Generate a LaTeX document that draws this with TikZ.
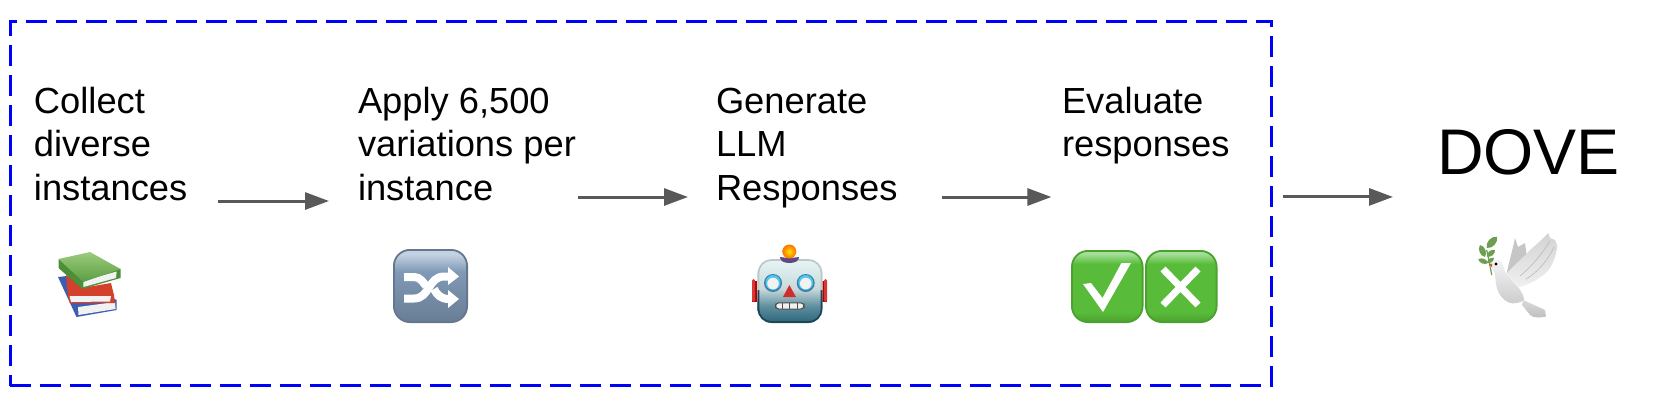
\documentclass[tikz,border=0pt]{standalone}
\usepackage{fontspec}
\setmainfont{Liberation Sans}
\usetikzlibrary{arrows.meta}
\definecolor{btnB}{HTML}{4BA12E}\definecolor{btnM}{HTML}{58BC3A}\definecolor{btnT}{HTML}{A4DF97}
\definecolor{shB}{HTML}{697D95}\definecolor{shM}{HTML}{8099B6}\definecolor{shT}{HTML}{C3D2E2}
\definecolor{rbB}{HTML}{2B6478}\definecolor{rbM}{HTML}{5D8E9F}\definecolor{rbL}{HTML}{C9DADB}\definecolor{rbT}{HTML}{E8F5F6}
\definecolor{arrowgrey}{HTML}{595959}
\definecolor{bookblue}{HTML}{3D5DB0}\definecolor{bookred}{HTML}{D4412B}\definecolor{bookgreen}{HTML}{4C8F38}
\definecolor{bookgreenT}{HTML}{9CCB7C}\definecolor{bookgreenB}{HTML}{5A9F42}
\definecolor{leafgreen}{HTML}{6E9E52}
\pgfdeclareverticalshading{greenbtn}{100bp}{color(0bp)=(btnB);color(25bp)=(btnB);color(32bp)=(btnM);color(66bp)=(btnM);color(73bp)=(btnT);color(75bp)=(btnT);color(100bp)=(btnT)}
\pgfdeclareverticalshading{bluebtn}{100bp}{color(0bp)=(shB);color(25bp)=(shB);color(60bp)=(shM);color(72bp)=(shT);color(75bp)=(shT);color(100bp)=(shT)}
\pgfdeclareverticalshading{robothead}{100bp}{color(0bp)=(rbB);color(25bp)=(rbB);color(38bp)=(rbM);color(52bp)=(rbL);color(75bp)=(rbT);color(100bp)=(rbT)}
\tikzset{
  label text/.style={inner sep=0pt,outer sep=0pt,anchor=north west,align=left,font=\fontsize{36.3}{43.5}\selectfont},
  flow/.style={draw=arrowgrey,line width=3pt,-{Triangle[length=24pt,width=17pt,fill=arrowgrey]}},
  frame box/.style={draw=blue,line width=3pt,dash pattern=on 21pt off 9pt,inner sep=0pt,outer sep=0pt,minimum width=1261pt,minimum height=364.5pt},
  page/.style={fill=white!90!gray},
}
\newcommand{\firstln}{\rule{0pt}{30pt}}
\newcommand{\lastln}{\rule[-10pt]{0pt}{10pt}}
\newcommand{\leafshape}[3]{\fill[#1] (#2) to[bend left=55] (#3) to[bend left=55] (#2) -- cycle;}
\begin{document}
\begin{tikzpicture}[x=1pt,y=-1pt]
\useasboundingbox (0,0) rectangle (1660,405);
\node[frame box] (frame) at (640.5,203.7) {};
\node[label text] (collect) at (34,83) {\firstln Collect\\diverse\\instances\lastln};
\node[label text] (apply) at (358,83) {\firstln Apply 6,500\\variations per\\instance\lastln};
\node[label text] (generate) at (716,83) {\firstln Generate\\LLM\\Responses\lastln};
\node[label text] (evaluate) at (1062,83) {\firstln Evaluate\\responses\lastln};
\node[inner sep=0pt,outer sep=0pt,anchor=base west,font=\fontsize{64.5}{70}\selectfont] (dove) at (1437,174) {DOVE};
\draw[flow] ([shift={(184,-9)}]collect.south west) -- ([shift={(-29,-9)}]apply.south west);
\draw[flow] ([shift={(220,-13)}]apply.south west) -- ([shift={(-28,-13)}]generate.south west);
\draw[flow] ([shift={(225.6,-13)}]generate.south west) -- ([shift={(-10.6,30.5)}]evaluate.south west);
\path (dove.south west) ++(-44,22.3) coordinate (doveIn);
\draw[flow] ([xshift=12pt]frame.east |- doveIn) -- (doveIn);
% books
\begin{scope}
\fill[bookblue] (58,277) -- (67,276) -- (116.7,300) -- (116.7,310) -- (76.5,317) -- cycle;
\fill[page] (78,307) -- (115,302) -- (115.6,309) -- (78.5,315) -- cycle;
\fill[bookred] (66,275) -- (82,288) -- (111,283) -- (114,295) -- (115,303) -- (70,303.5) -- (68,296) -- cycle;
\fill[page] (69.6,296) -- (111,296) -- (110,301.5) -- (71,302) -- cycle;
\fill[bookgreen] (58.5,259) -- (58.5,268) -- (82.3,289) -- (120.5,278) -- (120.5,269) -- cycle;
\fill[page] (83.4,281) -- (116.7,271.5) -- (116,278) -- (83.4,287) -- cycle;
\shade[top color=bookgreenT,bottom color=bookgreenB] (58.5,259) -- (90,252) -- (120.5,269) -- (83.4,282) -- cycle;
\end{scope}
% shuffle
\shade[shading=bluebtn,draw=shB!95!black,line width=1.8pt,rounded corners=16pt] (393.9,249.9) rectangle (467.1,322.1);
\begin{scope}[draw=white,line width=8pt]
\draw (404,277) -- (414,277) .. controls (420,277) and (423,282) .. (426,286);
\draw (404,298.5) -- (414,298.5) .. controls (430,298.5) and (428,276.5) .. (444,276.5) -- (449,276.5);
\draw (434,289) .. controls (437,295) and (441,299) .. (449,299);
\fill[white,draw=none] (448,267) -- (459,276.5) -- (448,285) -- cycle;
\fill[white,draw=none] (448,290) -- (459,299) -- (448,308) -- cycle;
\end{scope}
% robot
\fill[red!70!black] (752,281) rectangle (758,302);
\fill[red!70!black] (821,281) rectangle (827,302);
\fill[red!75!white!85!black,rounded corners=1.5pt] (752,279) rectangle (755,302);
\fill[red!75!white!85!black,rounded corners=1.5pt] (824,279) rectangle (827,302);
\shade[shading=robothead,rounded corners=14pt] (757.5,259) rectangle (822.5,323);
\draw[color=rbB!70!black,line width=1.6pt,rounded corners=13pt] (758.5,290) -- (758.5,322) -- (821.5,322) -- (821.5,290);
\draw[color=rbL!80!gray,line width=1.6pt,rounded corners=13pt] (758.5,290) -- (758.5,260) -- (821.5,260) -- (821.5,290);
\fill[color={rgb,255:red,94;green,74;blue,126}] (780,257) .. controls (785,258) and (794,258) .. (799,257) .. controls (799,261) and (795,263) .. (789.5,263) .. controls (784,263) and (780,261) .. (780,257) -- cycle;
\shade[inner color=yellow!75!orange,outer color=orange!90!red] (789.3,251.5) circle (7);
\foreach \ex in {773,805.7}{
  \fill[color={rgb,255:red,62;green,128;blue,165}] (\ex,283) circle (9);
  \fill[cyan!70!white] (\ex,282.5) circle (7.5);
  \fill[white!90!gray] (\ex,283.5) circle (5.8);
}
\fill[red!65!gray] (789.3,285) -- (796,297) -- (783,297) -- cycle;
\draw[fill=white!88!gray,draw=black!70,line width=1pt,rounded corners=3.4pt] (775.5,302.8) rectangle (804,309);
\foreach \mx in {782.5,789.7,797}{\draw[black!70,line width=.9pt] (\mx,303) -- (\mx,309);}
% check and cross
\shade[shading=greenbtn,draw=btnB,line width=1.8pt,rounded corners=16pt] (1071.9,250.9) rectangle (1142.6,322.1);
\shade[shading=greenbtn,draw=btnB,line width=1.8pt,rounded corners=16pt] (1145.9,250.9) rectangle (1216.6,322.1);
\fill[white] (1083,284) -- (1091,283) -- (1102.5,298) -- (1121.4,263) -- (1131,263) -- (1103,312) -- cycle;
\draw[white,line width=7pt] (1163,269) -- (1198,305);
\draw[white,line width=7pt] (1198,269) -- (1163,305);
% dove
\draw[leafgreen,line width=1.2pt] (1491.7,275) -- (1489.5,263) -- (1486.7,250);
\leafshape{leafgreen}{1497,236.7}{1486.7,248}
\leafshape{leafgreen}{1480,245}{1485,257}
\leafshape{leafgreen}{1495,250}{1486.7,256.7}
\leafshape{leafgreen}{1478.3,259.3}{1488,263}
\leafshape{leafgreen}{1494,258}{1487,263}
\fill[gray!45] (1506.7,273) .. controls (1510,258) and (1513,248) .. (1515,238) -- (1518,247) -- (1525,243) -- (1527,257) -- (1510,276) -- cycle;
\shade[top color=gray!30,bottom color=gray!50,draw=none] (1523,300) -- (1545,310) -- (1546,316.5) .. controls (1540,318) and (1533,318) .. (1530,315) -- (1522,305) -- cycle;
\shade[top color=white!92!gray,bottom color=gray!40] (1490,265.7) .. controls (1492,261) and (1496,259) .. (1499,260) .. controls (1503,262) and (1504,268) .. (1505,272) -- (1518,287) .. controls (1522,292) and (1524,297) .. (1524,300) .. controls (1520,303) and (1514,304) .. (1510,303) .. controls (1502,300) and (1497,292) .. (1496,284) -- (1495,275) .. controls (1494,270) and (1492,268) .. (1490,265.7) -- cycle;
\shade[top color=gray!35,bottom color=white!88!gray] (1506.7,273.3) .. controls (1515,264) and (1525,256) .. (1530,250) .. controls (1537,244) and (1544,238) .. (1548,233) -- (1550,238) -- (1555,240) -- (1557.3,246) .. controls (1556,256) and (1553,265) .. (1547,272) .. controls (1538,280) and (1528,285) .. (1519,287) -- cycle;
\draw[gray!55,line width=.6pt] (1520,276) .. controls (1532,266) and (1542,254) .. (1550,241);
\draw[gray!55,line width=.6pt] (1526,279) .. controls (1538,272) and (1548,260) .. (1554,247);
\fill[black] (1496,264) circle (1.7);
\fill[brown!70!red] (1488.5,265) -- (1492,263.5) -- (1492,267) -- cycle;
\end{tikzpicture}
\end{document}
